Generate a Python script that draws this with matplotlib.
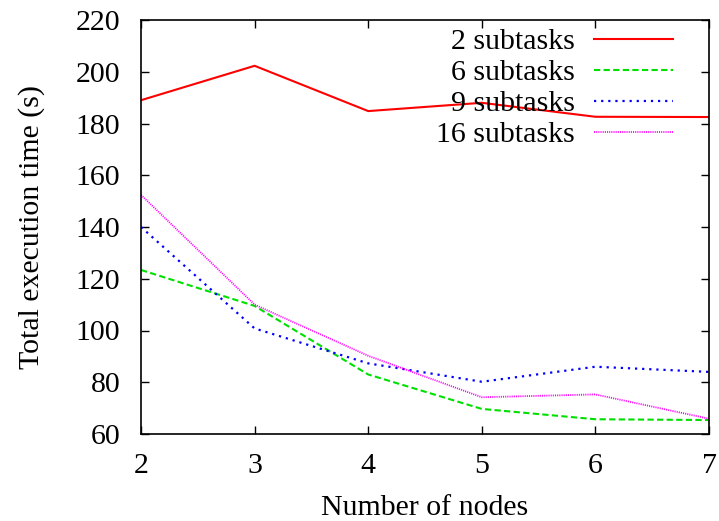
import matplotlib
matplotlib.use('Agg')
import matplotlib.pyplot as plt

plt.rcParams['font.family'] = ['Liberation Serif', 'DejaVu Serif']

# data
nodes = [2, 3, 4, 5, 6, 7]
sub2 = [189, 202.3, 184.8, 188, 182.6, 182.5]
sub6 = [123.4, 109.5, 83, 69.7, 65.7, 65.4]
sub9 = [140, 100.8, 87.3, 80.2, 86, 84]
sub16 = [152.4, 110, 90.2, 74.2, 75.3, 65.9]

FS = 21.5

fig = plt.figure(figsize=(7.19, 5.21), dpi=100)
ax = fig.add_axes([141/719, 1 - 434/521, (709 - 141)/719, (434 - 20)/521])

ax.plot(nodes, sub2, color='#ff0000', lw=1.5, ls='-', label='2 subtasks')
ax.plot(nodes, sub6, color='#00e000', lw=1.5, ls=(0, (3, 1.6)), label='6 subtasks')
ax.plot(nodes, sub9, color='#0000ff', lw=1.6, ls=(0, (1, 2.2)), label='9 subtasks')
ax.plot(nodes, sub16, color='#ff00ff', lw=1.3, ls=(0, (0.6, 0.6)), label='16 subtasks')

ax.set_xlim(2, 7)
ax.set_ylim(60, 220)
ax.set_xticks(nodes)
ax.set_yticks(range(60, 221, 20))
ax.tick_params(direction='in', length=6, width=1, top=True, right=True,
               labelsize=FS, colors='black')
ax.tick_params(axis='x', pad=14)
ax.tick_params(axis='y', pad=15)
for s in ax.spines.values():
    s.set_linewidth(1.2)

ax.set_xlabel('Number of nodes', fontsize=FS, labelpad=11)
ax.set_ylabel('Total execution time (s)', fontsize=FS, labelpad=22)

leg = ax.legend(loc='upper right', frameon=False, markerfirst=False,
                fontsize=FS, handlelength=2.65, handletextpad=0.64,
                labelspacing=0.14, borderaxespad=0.0, borderpad=0.0,
                bbox_to_anchor=(0.937, 0.98))
for t in leg.get_texts():
    t.set_ha('right')

fig.savefig('out.png', dpi=100)
